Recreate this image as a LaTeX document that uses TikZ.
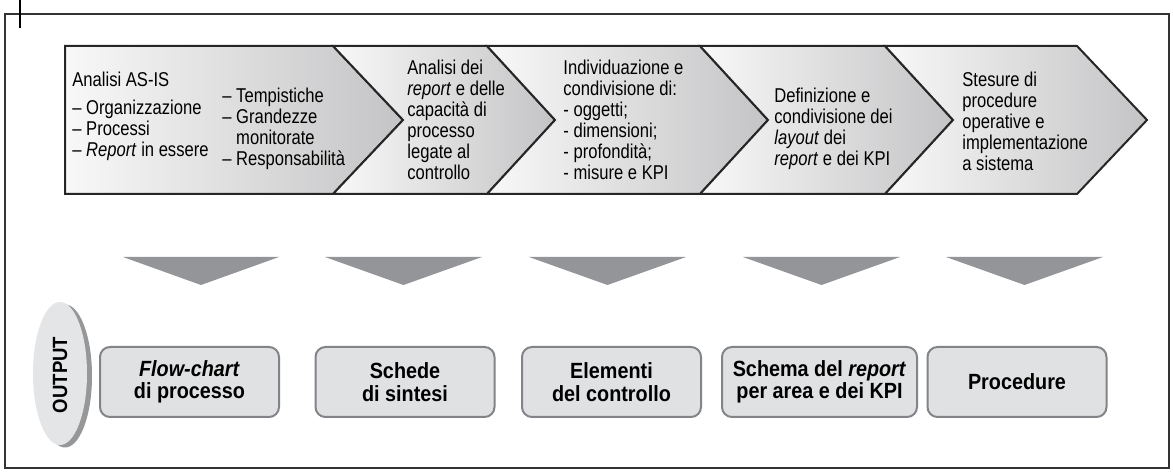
\documentclass[tikz,border=0pt]{standalone}
\usepackage{fontspec}
\setmainfont{Liberation Sans}[FakeStretch=0.83]
\newfontfamily\outfont{Liberation Sans}[FakeStretch=0.9]
\usetikzlibrary{positioning}
\definecolor{arrowgray}{RGB}{147,149,152}
\definecolor{boxgray}{RGB}{224,225,227}
\definecolor{boxline}{RGB}{130,132,135}
\definecolor{chevlight}{RGB}{248,248,248}
\definecolor{chevdark}{RGB}{196,196,198}
\definecolor{ovalgray}{RGB}{228,229,230}
\definecolor{ovalshadow}{RGB}{150,151,153}

\begin{document}
\begin{tikzpicture}[
    x=0.5pt, y=-0.5pt,
    chev/.style={left color=chevlight, right color=chevdark, draw=black!85, line width=1pt},
    steptext/.style={anchor=north west, inner sep=0pt, align=left, font=\fontsize{10}{10.5}\selectfont},
    down/.style={fill=arrowgray},
    outbox/.style={draw=boxline, line width=1pt, fill=boxgray, rounded corners=5pt, minimum width=89.5pt, minimum height=35pt, align=center, font=\outfont\bfseries\fontsize{11}{11.2}\selectfont}
]
    \useasboundingbox (0,0) rectangle (1173,475);
    \fill[white] (0,0) rectangle (1173,475);
    \draw[black!80, line width=0.6pt] (5,14) rectangle (1169,468);
    \draw[line width=1pt] (20,0) -- (20,28);

    % phases
    \path[chev] (65,46) -- (333,46) -- (403,120) -- (333,194) -- (65,194) -- cycle;
    \foreach \p/\q/\s/\t in {333/403/487/555, 487/555/700/768, 700/768/885/953, 885/953/1077/1147}
        \path[chev] (\p,46) -- (\s,46) -- (\t,120) -- (\s,194) -- (\p,194) -- (\q,120) -- cycle;

    \node[steptext] (asis) at (72,72) {Analisi AS-IS\\[3.5pt]
        -- Organizzazione\\-- Processi\\-- \textit{Report} in essere};
    \node[steptext] (asisb) at (222,88) {-- Tempistiche\\-- Grandezze\\\phantom{-- }monitorate\\-- Responsabilità};
    \node[steptext] (analisi) at (407,60) {Analisi dei\\\textit{report} e delle\\capacità di\\processo\\legate al\\controllo};
    \node[steptext] (indiv) at (563,60) {Individuazione e\\condivisione di:\\- oggetti;\\- dimensioni;\\- profondità;\\- misure e KPI};
    \node[steptext] (defin) at (774,88) {Definizione e\\condivisione dei\\\textit{layout} dei\\\textit{report} e dei KPI};
    \node[steptext] (stesure) at (962,72) {Stesure di\\procedure\\operative e\\implementazione\\a sistema};

    % down arrows
    \foreach \l/\r in {123/279, 325/482, 529/686, 743/900, 946/1103}
        \fill[down] (\l,257) -- (\r,257) -- ({(\l+\r)/2},285) -- cycle;

    % output
    \fill[ovalshadow] (65,376) ellipse (27 and 71.5);
    \fill[ovalgray] (60,373.5) ellipse (27 and 71.5);
    \node[rotate=90, font=\outfont\bfseries\fontsize{10.3}{11}\selectfont] (outlbl) at (60,375) {OUTPUT};

    \node[outbox] (flow) at (189.5,382) {\textit{Flow-chart}\\di processo};
    \node[outbox] (schede) at (405,382) {Schede\\di sintesi};
    \node[outbox] (elem) at (611.5,382) {Elementi\\del controllo};
    \node[outbox, minimum width=97.5pt] (schema) at (819.5,382) {Schema del \textit{report}\\per area e dei KPI};
    \node[outbox] (proc) at (1017,382) {Procedure};
\end{tikzpicture}
\end{document}
